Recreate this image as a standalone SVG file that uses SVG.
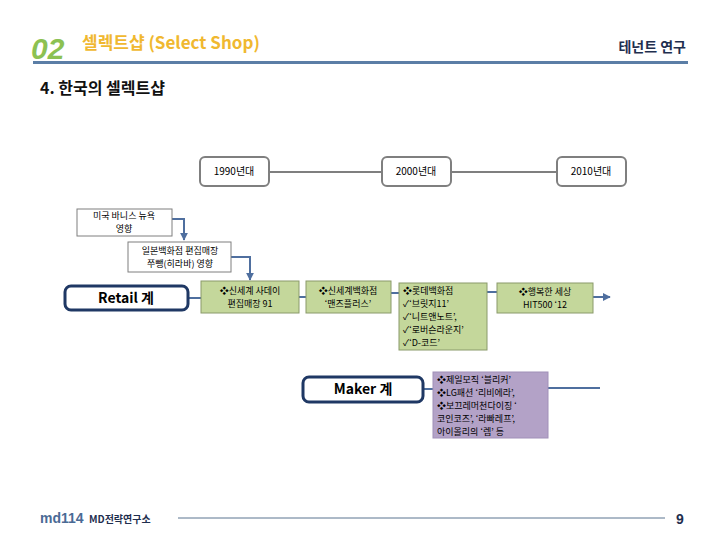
<svg xmlns="http://www.w3.org/2000/svg" width="720" height="540" viewBox="0 0 720 540">
<defs>
<style>
.k{font-family:"Noto Sans CJK KR","Liberation Sans",sans-serif;fill:#000}
.t{font-size:9px}
.y{font-size:10px}
.c{text-anchor:middle}
.tl{fill:#fff;stroke:#7f7f7f;stroke-width:2}
.wb{fill:#fff;stroke:#7f7f7f;stroke-width:1}
.gb{fill:#c4d79b;stroke:#8a9a6a;stroke-width:1}
.pb{fill:#b3a2c7;stroke:#a090b8;stroke-width:1}
.nb{fill:#fff;stroke:#1f3864;stroke-width:3}
.ln{fill:none;stroke:#4f6f9f;stroke-width:2}
.gl{fill:none;stroke:#7f7f7f;stroke-width:2}
</style>
<marker id="ah" viewBox="0 0 10 10" refX="9" refY="5" markerWidth="4" markerHeight="4" orient="auto"><path d="M0,0 L10,5 L0,10 z" fill="#4f6f9f"/></marker>
</defs>
<rect width="720" height="540" fill="#fff"/>
<g id="header">
<text x="31" y="59" font-family="Liberation Sans,sans-serif" font-size="30" font-weight="bold" font-style="italic" fill="#8cc152">02</text>
<text x="82" y="49" class="k" font-size="17" font-weight="bold" style="fill:#f0b830">셀렉트샵 (Select Shop)</text>
<text x="686" y="52" class="k" font-size="14" font-weight="bold" text-anchor="end" style="fill:#1f2f4f">테넌트 연구</text>
<rect x="33" y="61" width="655" height="3" fill="#5b7ea6"/>
<text x="40" y="94" class="k" font-size="16" font-weight="bold" style="fill:#111">4. 한국의 셀렉트샵</text>
</g>
<g id="connectors">
<line x1="269" y1="172" x2="382" y2="172" class="gl"/>
<line x1="451" y1="172" x2="557" y2="172" class="gl"/>
<polyline points="172,219 184,219 184,240" class="ln" marker-end="url(#ah)"/>
<polyline points="231,257 250,257 250,280" class="ln" marker-end="url(#ah)"/>
<line x1="188" y1="298" x2="201" y2="298" class="ln"/>
<line x1="299" y1="297" x2="306" y2="297" class="ln"/>
<line x1="391" y1="293" x2="399" y2="293" class="ln"/>
<line x1="487" y1="292" x2="497" y2="292" class="ln"/>
<line x1="593" y1="297" x2="610" y2="297" class="ln" stroke-width="3" marker-end="url(#ah)"/>
<line x1="423" y1="389" x2="433" y2="389" class="ln"/>
<line x1="548" y1="388" x2="600" y2="388" class="ln"/>
</g>
<g id="n1990"><rect x="200" y="157" width="69" height="29" rx="5" class="tl"/><text x="234" y="175" class="k y c">1990년대</text></g>
<g id="n2000"><rect x="382" y="157" width="69" height="29" rx="5" class="tl"/><text x="416" y="175" class="k y c">2000년대</text></g>
<g id="n2010"><rect x="557" y="157" width="69" height="29" rx="5" class="tl"/><text x="591" y="175" class="k y c">2010년대</text></g>
<g id="barneys"><rect x="77" y="209" width="95" height="27" class="wb"/><text x="124" y="219" class="k t c">미국 바니스 뉴욕</text><text x="124" y="232" class="k t c">영향</text></g>
<g id="japan"><rect x="128" y="242" width="103" height="30" class="wb"/><text x="180" y="254" class="k t c">일본백화점 편집매장</text><text x="180" y="267" class="k t c">쭈뺑(히라바) 영향</text></g>
<g id="retail"><rect x="65" y="286" width="123" height="24" rx="6" class="nb"/><text x="126" y="303" class="k c" font-size="14" font-weight="bold">Retail 계</text></g>
<g id="g1"><rect x="201" y="281" width="98" height="32" class="gb"/><text x="250" y="294" class="k t c">❖신세계 사데이</text><text x="250" y="307" class="k t c">편집매장 91</text></g>
<g id="g2"><rect x="306" y="281" width="85" height="32" class="gb"/><text x="348" y="294" class="k t c">❖신세계백화점</text><text x="348" y="307" class="k t c">‘맨즈플러스’</text></g>
<g id="g3"><rect x="399" y="283" width="88" height="67" class="gb"/>
<text x="403" y="294" class="k t">❖롯데백화점</text>
<text x="403" y="307" class="k t">✓‘브릿지11’</text>
<text x="403" y="320" class="k t">✓‘니트앤노트’,</text>
<text x="403" y="333" class="k t">✓‘로버슨라운지’</text>
<text x="403" y="346" class="k t">✓‘D-코드’</text></g>
<g id="g4"><rect x="497" y="283" width="96" height="30" class="gb"/><text x="545" y="295" class="k t c">❖행복한 세상</text><text x="545" y="308" class="k t c">HIT500 ‘12</text></g>
<g id="maker"><rect x="303" y="377" width="120" height="25" rx="6" class="nb"/><text x="363" y="394" class="k c" font-size="14" font-weight="bold">Maker 계</text></g>
<g id="p1"><rect x="433" y="372" width="115" height="66" class="pb"/>
<text x="437" y="383" class="k t">❖제일모직 ‘블리커’</text>
<text x="437" y="396" class="k t">❖LG패션 ‘리비에라’,</text>
<text x="437" y="409" class="k t">❖보끄레머천다이징 ‘</text>
<text x="437" y="422" class="k t">코인코즈’, ‘라빠레프’,</text>
<text x="437" y="435" class="k t">아이올리의 ‘렙’ 등</text></g>
<g id="footer">
<text x="40" y="523" font-family="Liberation Sans,sans-serif" font-size="14" font-weight="bold" fill="#4a6a95">md114</text>
<text x="89" y="523" class="k" font-size="10" font-weight="bold" style="fill:#1f2f4f">MD전략연구소</text>
<line x1="178" y1="518" x2="665" y2="518" stroke="#5a7590" stroke-width="1"/>
<text x="676" y="524" font-family="Liberation Sans,sans-serif" font-size="14" font-weight="bold" fill="#1f2f4f">9</text>
</g>
</svg>
